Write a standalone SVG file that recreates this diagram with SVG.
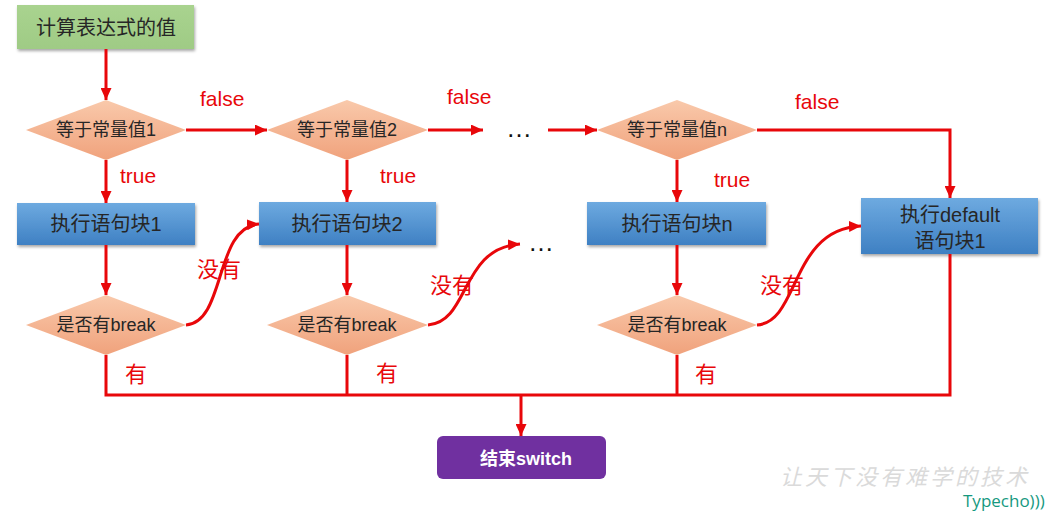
<svg xmlns="http://www.w3.org/2000/svg" width="1060" height="514" viewBox="0 0 1060 514">
  <defs>
    <linearGradient id="gDia" x1="0" y1="0" x2="0" y2="1">
      <stop offset="0" stop-color="#f9c9ab"/>
      <stop offset="1" stop-color="#f0a27c"/>
    </linearGradient>
    <linearGradient id="gBlue" x1="0" y1="0" x2="0" y2="1">
      <stop offset="0" stop-color="#6eaae0"/>
      <stop offset="1" stop-color="#3e80c3"/>
    </linearGradient>
    <linearGradient id="gGreen" x1="0" y1="0" x2="0" y2="1">
      <stop offset="0" stop-color="#a9d38f"/>
      <stop offset="1" stop-color="#9fcb85"/>
    </linearGradient>
    <filter id="sh" x="-10%" y="-20%" width="120%" height="150%">
      <feDropShadow dx="1" dy="2" stdDeviation="1.5" flood-color="#000" flood-opacity="0.35"/>
    </filter>
    <marker id="arr" markerUnits="userSpaceOnUse" markerWidth="13" markerHeight="11" refX="12" refY="5.5" orient="auto">
      <path d="M0,0 L12,5.5 L0,11 z" fill="#e8070a"/>
    </marker>
  </defs>
  <style>
    .node-text { font-family: "Liberation Sans", "Noto Sans CJK SC", sans-serif; fill: #262626; text-anchor: middle; }
    .dia { fill: url(#gDia); }
    .box { fill: url(#gBlue); filter: url(#sh); }
    .lbl { font-family: "Liberation Sans", "Noto Sans CJK SC", sans-serif; fill: #e8070a; font-size: 21px; }
    .cjk { font-size: 22px; }
    .conn { fill: none; stroke: #e8070a; stroke-width: 3; }
    .dots { font-family: "Liberation Sans", sans-serif; font-size: 26px; fill: #111111; }
  </style>

  <rect width="1060" height="514" fill="#ffffff"/>

  <!-- Nodes -->
  <g id="start">
    <rect x="17" y="5" width="177" height="44" fill="url(#gGreen)" filter="url(#sh)"/>
    <text class="node-text" x="106" y="35" font-size="20">计算表达式的值</text>
  </g>

  <g id="cond1">
    <polygon class="dia" points="26,130 106,100 186,130 106,160"/>
    <text class="node-text" x="106" y="136" font-size="18">等于常量值1</text>
  </g>
  <g id="cond2">
    <polygon class="dia" points="267,130 347,100 428,130 347,160"/>
    <text class="node-text" x="347" y="136" font-size="18">等于常量值2</text>
  </g>
  <g id="condn">
    <polygon class="dia" points="597,130 677,100 757,130 677,160"/>
    <text class="node-text" x="677" y="136" font-size="18">等于常量值n</text>
  </g>

  <g id="block1">
    <rect class="box" x="17" y="203" width="178" height="42"/>
    <text class="node-text" x="106" y="231" font-size="20">执行语句块1</text>
  </g>
  <g id="block2">
    <rect class="box" x="259" y="202" width="177" height="43"/>
    <text class="node-text" x="347" y="231" font-size="20">执行语句块2</text>
  </g>
  <g id="blockn">
    <rect class="box" x="587" y="202" width="179" height="43"/>
    <text class="node-text" x="677" y="231" font-size="20">执行语句块n</text>
  </g>
  <g id="default">
    <rect class="box" x="861" y="198" width="177" height="56"/>
    <text class="node-text" x="950" y="222" font-size="20">执行default</text>
    <text class="node-text" x="950" y="248" font-size="20">语句块1</text>
  </g>

  <g id="break1">
    <polygon class="dia" points="26,325 106,295 186,325 106,355"/>
    <text class="node-text" x="106" y="331" font-size="18">是否有break</text>
  </g>
  <g id="break2">
    <polygon class="dia" points="267,325 347,295 428,325 347,355"/>
    <text class="node-text" x="347" y="331" font-size="18">是否有break</text>
  </g>
  <g id="breakn">
    <polygon class="dia" points="597,325 677,295 757,325 677,355"/>
    <text class="node-text" x="677" y="331" font-size="18">是否有break</text>
  </g>

  <g id="end">
    <rect x="437" y="436" width="169" height="43" rx="6" fill="#7030a0"/>
    <text x="526" y="465" font-family="Liberation Sans, Noto Sans CJK SC, sans-serif" font-size="18" font-weight="bold" fill="#ffffff" text-anchor="middle">结束switch</text>
  </g>

  <g id="ellipsis1">
    <text class="dots" x="506" y="137">…</text>
  </g>
  <g id="ellipsis2">
    <text class="dots" x="528" y="251">…</text>
  </g>

  <!-- Connectors -->
  <g id="connectors">
    <path class="conn" d="M106,49 V100" marker-end="url(#arr)"/>
    <path class="conn" d="M186,130 H267" marker-end="url(#arr)"/>
    <path class="conn" d="M428,130 H483" marker-end="url(#arr)"/>
    <path class="conn" d="M548,130 H597" marker-end="url(#arr)"/>
    <path class="conn" d="M757,130 H950 V198" marker-end="url(#arr)"/>
    <path class="conn" d="M106,160 V203" marker-end="url(#arr)"/>
    <path class="conn" d="M347,160 V202" marker-end="url(#arr)"/>
    <path class="conn" d="M677,160 V202" marker-end="url(#arr)"/>
    <path class="conn" d="M106,245 V295" marker-end="url(#arr)"/>
    <path class="conn" d="M347,245 V295" marker-end="url(#arr)"/>
    <path class="conn" d="M677,245 V295" marker-end="url(#arr)"/>
    <path class="conn" d="M186,325 C226,322 214,227 259,224" marker-end="url(#arr)"/>
    <path class="conn" d="M428,325 C470,322 460,248 520,244" marker-end="url(#arr)"/>
    <path class="conn" d="M757,325 C800,322 790,229 861,226" marker-end="url(#arr)"/>
    <path class="conn" d="M106,355 V395 H950 V254"/>
    <path class="conn" d="M347,355 V395"/>
    <path class="conn" d="M677,355 V395"/>
    <path class="conn" d="M521,395 V436" marker-end="url(#arr)"/>

    <text class="lbl" x="200" y="106">false</text>
    <text class="lbl" x="447" y="104">false</text>
    <text class="lbl" x="795" y="109">false</text>
    <text class="lbl" x="120" y="183">true</text>
    <text class="lbl" x="380" y="183">true</text>
    <text class="lbl" x="714" y="187">true</text>
    <text class="lbl cjk" x="197" y="277">没有</text>
    <text class="lbl cjk" x="430" y="293">没有</text>
    <text class="lbl cjk" x="760" y="293">没有</text>
    <text class="lbl cjk" x="125" y="382">有</text>
    <text class="lbl cjk" x="376" y="381">有</text>
    <text class="lbl cjk" x="695" y="382">有</text>
  </g>

  <!-- Watermark -->
  <text x="780" y="485" font-family="Noto Sans CJK SC, sans-serif" font-size="22" fill="#dadada" font-style="italic" textLength="247">让天下没有难学的技术</text>
  <text x="963" y="507" font-family="Open Sans, sans-serif" font-size="17" fill="#16997f">Typecho)))</text>
</svg>
